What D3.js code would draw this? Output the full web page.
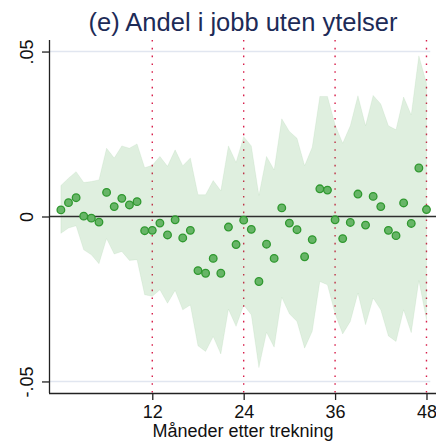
<!DOCTYPE html>
<html>
<head>
<meta charset="utf-8">
<script src="https://cdn.jsdelivr.net/npm/d3@7"></script>
<style>
	body { margin: 0; background: #fff; }
	text { font-family: 'Liberation Sans', Arial, sans-serif; }
</style>
</head>
<body>
<div id="chart"></div>
<script>
// months after the draw (0..48)
const months = d3.range(0, 49)

// point estimates
const estimate = [
	0.0020, 0.0042, 0.0057, 0.0001, -0.0005, -0.0017, 0.0073, 0.0030, 0.0055, 0.0035,
	0.0045, -0.0043, -0.0042, -0.0020, -0.0056, -0.0010, -0.0065, -0.0042, -0.0164, -0.0172,
	-0.0127, -0.0172, -0.0032, -0.0085, -0.0011, -0.0039, -0.0197, -0.0084, -0.0127, 0.0026,
	-0.0020, -0.0040, -0.0122, -0.0070, 0.0084, 0.0080, -0.0010, -0.0067, -0.0018, 0.0068,
	-0.0026, 0.0061, 0.0030, -0.0042, -0.0058, 0.0041, -0.0021, 0.0147, 0.0021
]

// confidence band
const upper = [
	0.0094, 0.0116, 0.0136, 0.0103, 0.0106, 0.0111, 0.0207, 0.0177, 0.0214, 0.0207,
	0.0220, 0.0148, 0.0155, 0.0182, 0.0152, 0.0202, 0.0154, 0.0177, 0.0066, 0.0066,
	0.0109, 0.0078, 0.0214, 0.0164, 0.0242, 0.0214, 0.0064, 0.0182, 0.0141, 0.0296,
	0.0258, 0.0237, 0.0154, 0.0210, 0.0364, 0.0364, 0.0278, 0.0222, 0.0275, 0.0366,
	0.0275, 0.0367, 0.0341, 0.0275, 0.0263, 0.0362, 0.0308, 0.0487, 0.0404
]
const lower = [
	-0.0051, -0.0035, -0.0028, -0.0101, -0.0116, -0.0143, -0.0067, -0.0114, -0.0106, -0.0133,
	-0.0131, -0.0237, -0.0242, -0.0222, -0.0263, -0.0224, -0.0283, -0.0268, -0.0392, -0.0409,
	-0.0364, -0.0417, -0.0281, -0.0333, -0.0268, -0.0298, -0.0458, -0.0351, -0.0396, -0.0245,
	-0.0295, -0.0318, -0.0399, -0.0348, -0.0197, -0.0207, -0.0295, -0.0356, -0.0318, -0.0232,
	-0.0328, -0.0247, -0.0283, -0.0362, -0.0379, -0.0283, -0.0352, -0.0194, -0.0313
]

const xTicks = [ 12, 24, 36, 48 ]
const yTicks = [ -0.05, 0, 0.05 ]
const yTickLabels = [ '-.05', '0', '.05' ]
const title = '(e) Andel i jobb uten ytelser'
const xTitle = 'Måneder etter trekning'

const width = 436
const height = 441
const margin = { top: 40, right: 0, bottom: 48, left: 49 }
const font = "'Liberation Sans', Arial, sans-serif"

const data = months.map((m, i) => ({ m, est: estimate[ i ], lo: lower[ i ], hi: upper[ i ] }))

const svg = d3.select('#chart').append('svg')
	.attr('width', width)
	.attr('height', height)

const x = d3.scaleLinear()
	.domain([ -1.56, 49.25 ])
	.range([ margin.left, width - margin.right ])

const y = d3.scaleLinear()
	.domain([ -0.0535, 0.0535 ])
	.range([ height - margin.bottom, margin.top ])

// light lines at +-.05
svg.append('g')
	.selectAll('line')
	.data([ -0.05, 0.05 ])
	.enter().append('line')
	.attr('x1', margin.left)
	.attr('x2', x(48.5))
	.attr('y1', d => y(d))
	.attr('y2', d => y(d))
	.style('stroke', '#e1e6f0')
	.style('stroke-width', 1.6)

// red dotted year lines
svg.append('g')
	.selectAll('line')
	.data(xTicks)
	.enter().append('line')
	.attr('x1', d => x(d))
	.attr('x2', d => x(d))
	.attr('y1', margin.top)
	.attr('y2', height - margin.bottom)
	.style('stroke', '#d81e4a')
	.style('stroke-width', 1.4)
	.style('stroke-dasharray', '1.6,6.2')

// confidence band
const area = d3.area()
	.x(d => x(d.m))
	.y0(d => y(d.lo))
	.y1(d => y(d.hi))

svg.append('path')
	.datum(data)
	.attr('d', area)
	.style('fill', '#3a9e3a')
	.style('fill-opacity', 0.16)
	.style('stroke', '#3a9e3a')
	.style('stroke-opacity', 0.08)

// zero line
svg.append('line')
	.attr('x1', margin.left)
	.attr('x2', width)
	.attr('y1', y(0))
	.attr('y2', y(0))
	.style('stroke', '#2e2e2e')
	.style('stroke-width', 1.5)

// points
svg.append('g')
	.selectAll('circle')
	.data(data)
	.enter().append('circle')
	.attr('cx', d => x(d.m))
	.attr('cy', d => y(d.est))
	.attr('r', 3.8)
	.style('fill', '#67b567')
	.style('stroke', '#2f982f')
	.style('stroke-width', 1.3)

// axes
const xAxis = g => g
	.attr('transform', `translate(0,${ height - margin.bottom })`)
	.call(d3.axisBottom(x).tickValues(xTicks).tickSize(7).tickPadding(5).tickSizeOuter(0))
	.call(g => g.select('.domain').attr('d', `M${ margin.left },0.5H${ width }`).style('stroke', '#222').style('stroke-width', 1.3))
	.call(g => g.selectAll('.tick line').style('stroke', '#222').style('stroke-width', 1.3))
	.call(g => g.selectAll('text')
		.attr('font-size', 18)
		.attr('font-family', font)
		.style('fill', '#111'))

const yAxis = g => g
	.attr('transform', `translate(${ margin.left },0)`)
	.call(d3.axisLeft(y).tickValues(yTicks).tickSize(7).tickSizeOuter(0).tickFormat((d, i) => yTickLabels[ i ]))
	.call(g => g.select('.domain').attr('d', `M0.5,${ margin.top }V${ height - margin.bottom }`).style('stroke', '#222').style('stroke-width', 1.3))
	.call(g => g.selectAll('.tick line').style('stroke', '#222').style('stroke-width', 1.3))
	.call(g => g.selectAll('text')
		.attr('x', 0)
		.attr('y', 0)
		.attr('dy', 0)
		.attr('transform', 'translate(-16,0) rotate(-90)')
		.style('text-anchor', 'middle')
		.attr('font-size', 18)
		.attr('font-family', font)
		.style('fill', '#111'))

svg.append('g').call(xAxis)
svg.append('g').call(yAxis)

// titles
svg.append('text')
	.attr('x', 243)
	.attr('y', 31)
	.attr('text-anchor', 'middle')
	.style('font-size', '25.5px')
	.style('fill', '#1d2b57')
	.text(title)

svg.append('text')
	.attr('x', 243)
	.attr('y', 437)
	.attr('text-anchor', 'middle')
	.style('font-size', '18px')
	.style('fill', '#111')
	.text(xTitle)
</script>
</body>
</html>
